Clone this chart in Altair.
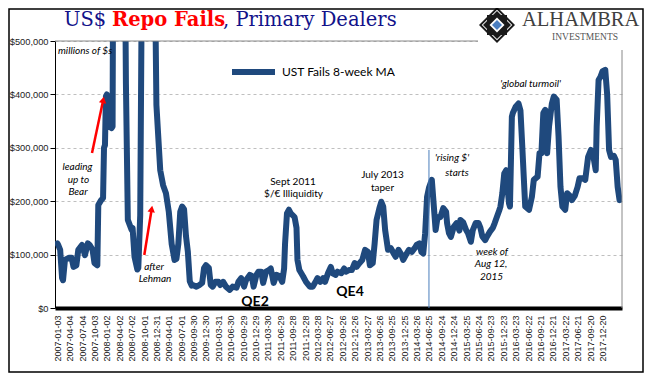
import altair as alt
import pandas as pd

# ---- data (weeks since 2007-01-03, UST fails 8-week MA in $ millions)
weeks = [0, 1, 3, 5, 6, 8, 12, 15, 17, 20, 22, 26, 29, 32, 34, 37, 39, 42, 43, 46, 48, 49, 50, 51, 52, 54, 57, 58,
         59, 62, 66, 70, 72, 74, 78, 79, 81, 84, 85, 87, 89, 92, 96, 100, 102, 104, 108, 111, 114, 117, 120, 123,
         125, 127, 129, 131, 133, 135, 137, 139, 141,
         142, 146, 149, 152, 154, 156, 159, 161, 163, 166, 169, 171, 174, 177, 181, 184, 188, 190, 193, 196, 198,
         202, 204, 206, 209, 211, 214, 216, 219, 222, 224, 227, 230, 233, 236, 238, 239, 241, 243, 245, 248, 249,
         251, 252,
         254, 258, 261, 265, 268, 271, 273, 276, 279, 281, 284, 287, 289, 292, 294, 298, 301, 303, 306, 309, 312,
         314, 317, 320, 323, 326, 328, 331, 333, 335, 338, 340, 342, 344, 347, 350, 353, 355, 358, 361, 363, 366,
         369, 372, 375, 377, 380, 382, 384, 386, 388, 390, 393,
         397, 399, 402, 405, 408, 409, 411, 413, 416, 419, 422, 423, 426, 429, 431, 434, 436, 439, 442, 444, 446,
         449, 451, 454, 457, 459, 462, 464, 465, 467, 469, 471, 472, 474, 475, 477, 478, 481, 484, 486, 488, 491,
         495, 498, 500, 504, 506, 508, 510, 512, 514, 516, 519, 521, 524, 526, 528, 530, 533, 535, 538, 540, 543,
         546, 548, 551, 554, 557, 560, 562, 565, 566, 568, 570, 572, 575, 577, 579, 581, 584, 586, 588, 590]

fails = [121000, 118000, 109000, 56000, 52000, 90000, 94000, 94000, 77000, 80000, 109000, 118000, 99000, 121000,
         118000, 109000, 84000, 80000, 193000, 202000, 206000, 300000, 305000, 396000, 400000, 340000, 337000,
         340000, 900000, 1300000, 1600000, 900000, 420000, 165000, 146000, 150000, 96000, 72000, 75000, 174000,
         700000, 1800000, 2200000, 1400000, 700000, 380000, 258000, 230000, 215000, 180000, 120000, 90000,
         92000, 120000, 180000, 190000, 185000, 135000, 105000, 50000, 42000,
         43000, 40000, 43000, 47000, 75000, 80000, 75000, 43000, 40000, 49000, 49000, 43000, 49000, 40000, 34000,
         40000, 38000, 49000, 56000, 40000, 52000, 62000, 60000, 40000, 62000, 68000, 68000, 47000, 68000, 71000,
         74000, 47000, 62000, 60000, 49000, 74000, 121000, 177000, 184000, 177000, 172000, 170000, 150000, 90000,
         71000, 59000, 49000, 40000, 40000, 49000, 56000, 49000, 56000, 49000, 65000, 77000, 65000, 62000, 68000,
         65000, 74000, 68000, 71000, 71000, 84000, 77000, 84000, 90000, 109000, 105000, 80000, 84000, 121000,
         165000, 187000, 199000, 190000, 146000, 109000, 112000, 102000, 96000, 109000, 100000, 90000, 100000,
         109000, 105000, 112000, 118000, 121000, 105000, 102000, 140000, 208000, 225000, 240000,
         146000, 170000, 170000, 187000, 180000, 159000, 140000, 133000, 152000, 159000, 145000, 165000, 160000,
         146000, 140000, 124000, 146000, 159000, 159000, 150000, 134000, 127000, 134000, 143000, 150000, 159000,
         174000, 184000, 190000, 215000, 252000, 258000, 233000, 196000, 190000, 358000, 365000, 377000, 383000,
         370000, 300000, 190000, 184000, 208000, 240000, 246000, 290000, 290000, 365000, 371000, 290000, 340000,
         383000, 396000, 390000, 321000, 227000, 190000, 184000, 215000, 210000, 202000, 210000, 227000, 243000,
         243000, 240000, 283000, 296000, 290000, 258000, 340000, 427000, 433000, 443000, 446000, 400000, 296000,
         283000, 285000, 277000, 227000, 202000]

tick_labels = ["2007-01-03", "2007-04-04", "2007-07-04", "2007-10-03", "2008-01-02", "2008-04-02", "2008-07-02",
               "2008-10-01", "2008-12-31", "2009-04-01", "2009-07-01", "2009-09-30", "2009-12-30", "2010-03-31",
               "2010-06-30", "2010-09-29", "2010-12-29", "2011-03-30", "2011-06-29", "2011-09-28", "2011-12-28",
               "2012-03-28", "2012-06-27", "2012-09-26", "2012-12-26", "2013-03-27", "2013-06-26", "2013-09-25",
               "2013-12-25", "2014-03-26", "2014-06-25", "2014-09-24", "2014-12-24", "2015-03-25", "2015-06-24",
               "2015-09-23", "2015-12-23", "2016-03-23", "2016-06-22", "2016-09-21", "2016-12-21", "2017-03-22",
               "2017-06-21", "2017-09-20", "2017-12-20"]

y_ticks = [0, 100000, 200000, 300000, 400000, 500000]
rise_date = ["2014-06-25"]
x_range = ["2006-12-17", "2018-05-13"]

# ---- build tables
base_day = pd.Timestamp("2007-01-03")
dates = [(base_day + pd.Timedelta(weeks=w)).strftime("%Y-%m-%d") for w in weeks]
df = pd.DataFrame({"date": dates, "fails": fails})


def ms(s):
    return int(pd.Timestamp(s).value // 10**6)


tick_ms = [ms(t) for t in tick_labels]
x_dom = [ms(x_range[0]), ms(x_range[1])]

LINE = "#1F497D"
W, H = 567, 267

x_axis = alt.Axis(values=tick_ms, labelExpr="utcFormat(datum.value, '%Y-%m-%d')", labelAngle=270,
                  labelFont="Liberation Sans", labelFontSize=9, labelColor="#222",
                  labelPadding=7, ticks=False, tickSize=0, domainColor="black",
                  domainWidth=4, grid=False, title=None, labelOverlap=False, labelFlush=False)
x_scale = alt.Scale(type="utc", domain=x_dom, nice=False)
x_enc = alt.X("date:T", scale=x_scale, axis=x_axis)
y_enc = alt.Y("fails:Q",
              scale=alt.Scale(domain=[0, 500000], nice=False),
              axis=alt.Axis(values=y_ticks, format="$,.0f", labelFont="Liberation Sans", labelFontSize=9.3,
                            labelColor="#222", tickSize=5, tickColor="black", domainColor="black",
                            domainWidth=1, labelPadding=2, grid=True, gridColor="#BFBFBF",
                            gridDash=[3, 3], gridWidth=1, title=None))

line = alt.Chart(df).mark_line(color=LINE, strokeWidth=6, clip=True, strokeJoin="round",
                               strokeCap="round").encode(x=x_enc, y=y_enc)

rise = alt.Chart(pd.DataFrame({"date": rise_date})).mark_rule(color="#4A7EBB", strokeWidth=1).encode(
    x=x_enc, y=alt.datum(296000), y2=alt.datum(0))

one = pd.DataFrame({"k": [0]})


def label(text, x, y, size=10, font="Lato", style="normal", weight="normal", color="black",
          align="center", baseline="middle"):
    return alt.Chart(one).mark_text(text=text, font=font, fontSize=size, fontStyle=style,
                                    fontWeight=weight, color=color, align=align,
                                    baseline=baseline).encode(x=alt.value(x), y=alt.value(y))


def rule(x, x2, y, y2, color, width):
    return alt.Chart(one).mark_rule(color=color, strokeWidth=width).encode(
        x=alt.value(x), x2=alt.value(x2), y=alt.value(y), y2=alt.value(y2))


def dot(x, y, shape, size, color, angle=0):
    return alt.Chart(one).mark_point(shape=shape, size=size, filled=True, color=color, opacity=1,
                                     angle=angle).encode(x=alt.value(x), y=alt.value(y))


borders = [
    rule(0, 423, 0, 0, "#888888", 1),
    rule(W, W, 9, H, "#888888", 1),
]

frame = alt.Chart(one).mark_rect(filled=False, stroke="black", strokeWidth=1.5).encode(
    x=alt.value(-46), x2=alt.value(588), y=alt.value(-32), y2=alt.value(331))

white_box = alt.Chart(one).mark_rect(color="white").encode(
    x=alt.value(423), x2=alt.value(584), y=alt.value(-31), y2=alt.value(9))

NAVY = "#12128A"
title = [
    label("US$", 9, -15, size=19.5, font="DejaVu Serif", color=NAVY, align="left", baseline="alphabetic"),
    label("Repo Fails", 57, -15, size=19.5, font="DejaVu Serif", weight="bold", color="#FF0000",
          align="left", baseline="alphabetic"),
    label(", Primary Dealers", 168, -15, size=19.5, font="DejaVu Serif", color=NAVY, align="left",
          baseline="alphabetic"),
]

logo = [
    dot(442, -16, "diamond", 1296, "#1A1A1A"),
    dot(442, -16, "diamond", 930, "white"),
    dot(442, -16, "square", 400, "#1A1A1A"),
    dot(442, -16, "diamond", 784, "#1A1A1A"),
    dot(442, -16, "diamond", 225, "white"),
    dot(442, -16, "diamond", 100, "#4A7EC0"),
    label("ALHAMBRA", 467, -15, size=20.5, font="Liberation Serif", color="#404040", align="left",
          baseline="alphabetic"),
    label("INVESTMENTS", 530, -1, size=9.5, font="Liberation Serif", color="#555555",
          baseline="alphabetic"),
]

legend = [
    rule(177, 220, 31, 31, LINE, 6),
    label("UST Fails 8-week MA", 227, 31, size=12, align="left"),
]

notes = [
    label("millions of $s", 3, 10, style="italic", align="left"),
    label("leading", 22.5, 125.7, style="italic"),
    label("up to", 23.5, 139, style="italic"),
    label("Bear", 23, 150.7, style="italic"),
    label("after", 99, 226.3, style="italic"),
    label("Lehman", 100, 238.3, style="italic"),
    label("Sept 2011", 238, 141),
    label("$/\u20ac Illiquidity", 238.5, 153.3),
    label("July 2013", 327.5, 134),
    label("taper", 327.5, 147.3),
    label("QE2", 200, 261, size=14, weight="bold"),
    label("QE4", 295, 251, size=14, weight="bold"),
    label("'rising $'", 397, 117.3, style="italic"),
    label("starts", 402, 132.3, style="italic"),
    label("week of", 437, 210.7, style="italic"),
    label("Aug 12,", 436, 223, style="italic"),
    label("2015", 436.5, 235.7, style="italic"),
    label("'global turmoil'", 475.5, 43, style="italic"),
]

arrows = [
    rule(37, 48.2, 112, 58.9, "#FF0000", 2.5),
    dot(48.2, 58.9, "triangle-up", 55, "#FF0000", angle=12),
    rule(89.3, 96.7, 214, 168, "#FF0000", 2.5),
    dot(96.7, 168, "triangle-up", 55, "#FF0000", angle=9),
]

chart = alt.layer(
    line, rise, *borders, white_box, *logo, *title, *legend, *notes, *arrows, frame
).properties(
    width=W, height=H,
    autosize=alt.AutoSizeParams(type="none"),
    padding={"left": 47, "top": 33, "right": 22, "bottom": 65},
).configure_view(strokeWidth=0)

chart.save("out.html", embed_options={"renderer": "svg", "actions": False})
